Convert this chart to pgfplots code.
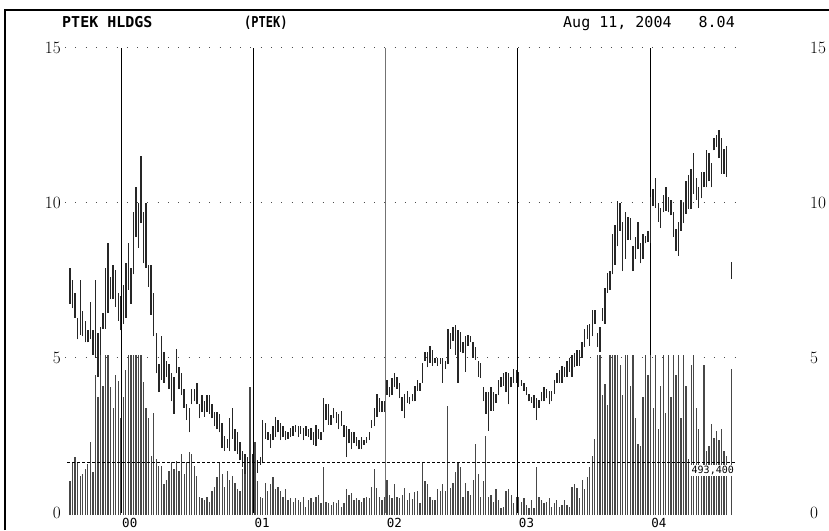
\documentclass[border=0pt]{standalone}
\usepackage{pgfplots}
\pgfplotsset{compat=1.18}
\usepackage{pgfplotstable}
\usepackage{fontspec}
\newfontfamily\mono{DejaVu Sans Mono}

\pgfplotstableread{
w lo hi vol
0 6.75 7.9 313
1 6.6 7.5 494
2 6.3 7.1 541
3 5.6 6.3 494
4 5.75 7.5 361
5 5.7 6.5 380
6 5.5 6.2 427
7 5.5 5.9 475
8 5.6 6.8 684
9 5.1 5.9 399
10 5.0 7.5 1300
11 4.4 5.8 1100
12 4.8 6.0 2000
13 5.95 6.45 1200
14 5.95 7.9 2000
15 6.45 8.7 2000
16 6.9 7.6 1190
17 6.9 8.0 1000
18 6.65 7.85 1300
19 6.2 7.1 1250
20 5.9 7.0 900
21 6.1 7.35 1100
22 6.3 8.05 1350
23 7.2 8.7 2000
24 6.75 7.9 2000
25 7.7 9.7 2000
26 8.9 10.5 2000
27 8.55 10.0 2000
28 9.35 11.5 2000
29 8.05 9.7 1240
30 7.9 10.0 1000
31 7.3 8.0 900
32 6.4 8.0 550
33 5.7 7.1 950
34 4.5 5.8 520
35 3.9 4.8 455
36 4.3 5.7 455
37 4.2 5.2 285
38 4.4 4.9 330
39 4.0 4.8 410
40 3.6 4.5 494
41 3.2 4.4 430
42 4.5 5.3 505
43 4.0 4.7 410
44 3.8 4.5 570
45 3.4 4.0 380
46 3.0 3.5 494
47 2.6 3.4 590
48 3.5 4.0 570
49 3.6 4.0 455
50 3.5 4.2 360
51 3.05 3.5 170
52 3.25 3.8 160
53 3.1 3.6 140
54 3.25 3.8 170
55 3.2 3.8 125
56 3.05 3.5 220
57 2.8 3.25 265
58 2.7 3.25 350
59 2.6 3.2 494
60 2.1 2.9 380
61 2.0 2.5 265
62 2.1 2.4 410
63 2.0 3.05 330
64 2.4 3.4 360
65 2.0 2.7 300
66 1.9 2.6 240
67 1.7 2.3 220
68 1.5 2.0 430
69 1.15 1.9 380
70 1.05 1.8 505
71 1.3 1.9 1190
72 1.4 1.9 494
73 1.5 1.8 680
74 1.3 1.7 315
75 1.55 1.8 170
76 1.6 3.0 160
77 2.4 2.9 300
78 2.35 2.6 220
79 2.1 2.55 285
80 2.35 2.8 350
81 2.45 3.1 240
82 2.6 3.0 265
83 2.35 2.9 220
84 2.45 2.8 170
85 2.35 2.65 240
86 2.4 2.6 140
87 2.45 2.75 160
88 2.5 2.8 125
89 2.6 2.85 160
90 2.45 2.8 140
91 2.55 2.8 125
92 2.35 2.75 170
93 2.5 2.8 75
94 2.45 2.7 140
95 2.35 2.75 160
96 2.2 2.6 125
97 2.15 2.85 170
98 2.4 2.7 190
99 2.35 2.6 110
100 2.6 3.7 445
101 3.0 3.5 125
102 2.85 3.5 110
103 2.85 3.15 95
104 3.05 3.4 125
105 2.9 3.25 110
106 2.7 3.2 140
107 2.8 3.3 75
108 2.45 2.85 110
109 1.8 2.8 240
110 2.25 2.7 190
111 2.05 2.6 205
112 2.25 2.6 140
113 2.15 2.45 160
114 2.05 2.35 140
115 2.05 2.45 125
116 2.2 2.35 160
117 2.25 2.45 170
118 2.35 2.6 160
119 2.75 3.0 265
120 2.8 3.4 430
121 3.1 3.85 255
122 3.25 3.7 170
123 3.25 3.6 140
124 3.25 3.6 170
125 3.8 4.3 330
126 3.75 4.05 190
127 3.8 4.35 160
128 4.05 4.5 285
129 4.0 4.4 170
130 3.7 4.2 160
131 3.3 3.75 190
132 3.05 3.85 255
133 3.55 3.95 140
134 3.5 3.75 205
135 3.6 3.85 150
136 3.6 4.1 210
137 3.95 4.3 220
138 3.95 4.2 115
139 4.2 4.85 494
140 4.9 5.2 315
141 4.7 5.2 285
142 4.85 5.4 170
143 4.75 5.25 140
144 4.85 5.0 140
145 4.75 5.0 240
146 4.8 5.0 220
147 4.2 5.0 285
148 4.65 4.9 220
149 4.8 5.95 1015
150 5.3 5.8 255
151 5.55 6.0 300
152 5.1 6.05 400
153 4.2 5.9 494
154 5.2 5.85 445
155 5.15 5.5 170
156 4.55 5.7 300
157 5.4 5.75 220
158 5.5 5.7 190
159 5.0 5.5 330
160 4.95 5.35 665
161 4.4 4.9 380
162 4.35 4.85 170
163 3.6 4.05 315
164 3.2 3.9 740
165 2.65 3.9 170
166 3.3 4.05 190
167 3.3 3.9 125
168 3.55 3.85 240
169 3.8 4.3 140
170 4.05 4.4 65
171 4.1 4.5 75
172 3.9 4.55 220
173 3.5 4.5 240
174 4.05 4.4 190
175 4.2 4.65 110
176 4.2 4.6 170
177 4.05 4.55 170
178 4.1 4.3 125
179 3.95 4.2 160
180 3.8 4.05 95
181 3.6 3.85 65
182 3.55 3.75 140
183 3.4 3.8 65
184 3.0 3.7 445
185 3.4 3.65 170
186 3.6 3.9 140
187 3.6 4.05 110
188 3.7 4.0 125
189 3.5 3.95 160
190 3.6 3.95 75
191 3.85 4.3 110
192 4.2 4.5 140
193 4.2 4.6 75
194 4.2 4.75 95
195 4.4 4.7 140
196 4.4 4.9 95
197 4.55 5.0 75
198 4.4 5.1 265
199 4.7 5.15 285
200 4.75 5.25 255
201 4.75 5.25 160
202 5.0 5.5 330
203 5.35 5.95 240
204 5.6 6.05 350
205 5.4 6.1 445
206 5.7 6.55 550
207 6.1 6.55 710
208 5.35 5.8 2000
209 5.2 6.0 2000
210 6.2 6.6 1120
211 6.1 7.25 1215
212 7.1 7.75 1025
213 7.2 7.8 2000
214 7.7 9.0 2000
215 8.0 9.3 2000
216 8.6 10.05 2000
217 9.1 10.0 1400
218 7.8 9.4 1120
219 8.2 9.7 2000
220 8.8 9.55 1500
221 8.8 9.5 1200
222 7.8 8.6 2000
223 8.2 8.9 900
224 8.5 9.4 665
225 8.05 8.7 645
226 8.2 9.0 1100
227 8.7 8.95 2000
228 8.75 9.1 1300
229 8.7 10.2 2000
230 9.9 10.45 1000
231 9.85 10.8 2000
232 9.4 10.0 800
233 9.2 9.85 1200
234 9.7 10.25 2000
235 9.75 10.5 950
236 9.7 10.2 2000
237 9.6 10.1 1100
238 8.9 9.7 2000
239 8.45 9.15 1300
240 8.3 9.4 2000
241 9.1 10.1 900
242 9.35 10.0 2000
243 9.65 10.7 1200
244 9.8 10.9 520
245 9.8 11.1 1400
246 10.3 11.6 2000
247 10.1 10.8 1000
248 9.85 10.5 800
249 10.15 11.0 400
250 10.5 11.0 1400
251 10.5 11.7 600
252 10.7 11.6 645
253 10.5 11.3 850
254 11.7 12.1 720
255 11.8 12.2 780
256 11.45 12.35 700
257 10.95 12.1 800
258 10.95 11.75 600
259 10.85 11.85 550
261 7.55 8.1 1360
}\data

\begin{document}
\begin{tikzpicture}[x=1pt,y=1pt]
\useasboundingbox (0,0) rectangle (829,530);
\fill[white] (0,0) rectangle (829,530);
\draw[line width=1.2pt] (5,0) -- (5,520) -- (829,520);

% grid dots
\begin{axis}[
  at={(65pt,17pt)}, anchor=south west, scale only axis,
  width=670pt, height=465pt,
  xmin=-2, xmax=262.3, ymin=0, ymax=15,
  axis line style={draw=none}, major tick length=0pt, minor tick length=0pt,
  xtick=\empty,
  minor xtick={7.05,33.15,46.2,59.25,85.35,98.4,111.45,137.55,150.6,163.65,189.75,202.8,215.85,241.95,255.0},
  ytick={5,10,15}, yticklabels={},
  xminorgrids=true, ymajorgrids=true,
  minor grid style={black!70, line width=1pt, dash pattern=on 1pt off 30pt},
  major grid style={black!70, line width=1pt, dash pattern=on 1pt off 9.3pt},
]
\addplot[draw=none] coordinates {(0,0)};
\end{axis}

% main axis: year lines, left labels, price bars
\begin{axis}[
  at={(65pt,17pt)}, anchor=south west, scale only axis,
  width=670pt, height=465pt,
  xmin=-2, xmax=262.3, ymin=0, ymax=15,
  axis line style={draw=none}, major tick length=0pt, minor tick length=0pt,
  xtick={20.1,72.3,176.6,228.8}, xticklabels={00,01,03,04},
  extra x ticks={124.5}, extra x tick labels={02},
  extra x tick style={grid=major, major grid style={black!55, line width=0.9pt}},
  xmajorgrids=true,
  major grid style={black, line width=0.9pt},
  xticklabel style={font=\mono\fontsize{12.5}{12.5}\selectfont, anchor=north west, inner sep=0pt, xshift=1pt, yshift=-5pt},
  ytick={0,5,10,15},
  yticklabel style={font=\fontsize{17}{17}\selectfont, anchor=east, inner sep=0pt, xshift=-4pt},
]
\addplot[draw=none, mark=none, mark size=0pt,
  error bars/.cd, y dir=plus, y explicit, error mark=none,
  error bar style={draw=black!85, line width=1.4pt}]
  table[x=w, y=lo, y error expr=\thisrow{hi}-\thisrow{lo}] {\data};
\end{axis}

% volume axis
\begin{axis}[
  at={(65pt,15pt)}, anchor=south west, scale only axis,
  width=670pt, height=159pt,
  xmin=-2, xmax=262.3, ymin=0, ymax=1480,
  axis line style={draw=none}, xtick=\empty, ytick=\empty,
]
\addplot[ycomb, black!72, line width=1.3pt, mark=none] table[x=w, y=vol] {\data};
\addplot[black, line width=0.9pt, dash pattern=on 3pt off 2pt] coordinates {(-3,493.4) (263,493.4)};
\node[fill=white, inner sep=1pt, anchor=north east, font=\mono\fontsize{10}{10}\selectfont] at (axis cs:262.3,470) {493,400};
\end{axis}

% right labels
\begin{axis}[
  at={(65pt,17pt)}, anchor=south west, scale only axis,
  width=670pt, height=465pt,
  xmin=-2, xmax=262.3, ymin=0, ymax=15,
  axis line style={draw=none}, major tick length=0pt,
  xtick=\empty, ytick={0,5,10,15}, yticklabel pos=right,
  yticklabel style={font=\fontsize{17}{17}\selectfont, anchor=west, inner sep=0pt, xshift=75pt},
]
\addplot[draw=none] coordinates {(0,0)};
\end{axis}

\node[anchor=base west, inner sep=0pt, font=\mono\bfseries\fontsize{15}{15}\selectfont] at (62,502) {PTEK HLDGS};
\node[anchor=base west, inner sep=0pt] at (244,502) {\scalebox{0.8}[1]{\mono\bfseries\fontsize{15}{15}\selectfont (PTEK)}};
\node[anchor=base west, inner sep=0pt, font=\mono\fontsize{15}{15}\selectfont] at (563,502) {Aug 11, 2004};
\node[anchor=base east, inner sep=0pt, font=\mono\fontsize{15}{15}\selectfont] at (735,502) {8.04};
\end{tikzpicture}
\end{document}
